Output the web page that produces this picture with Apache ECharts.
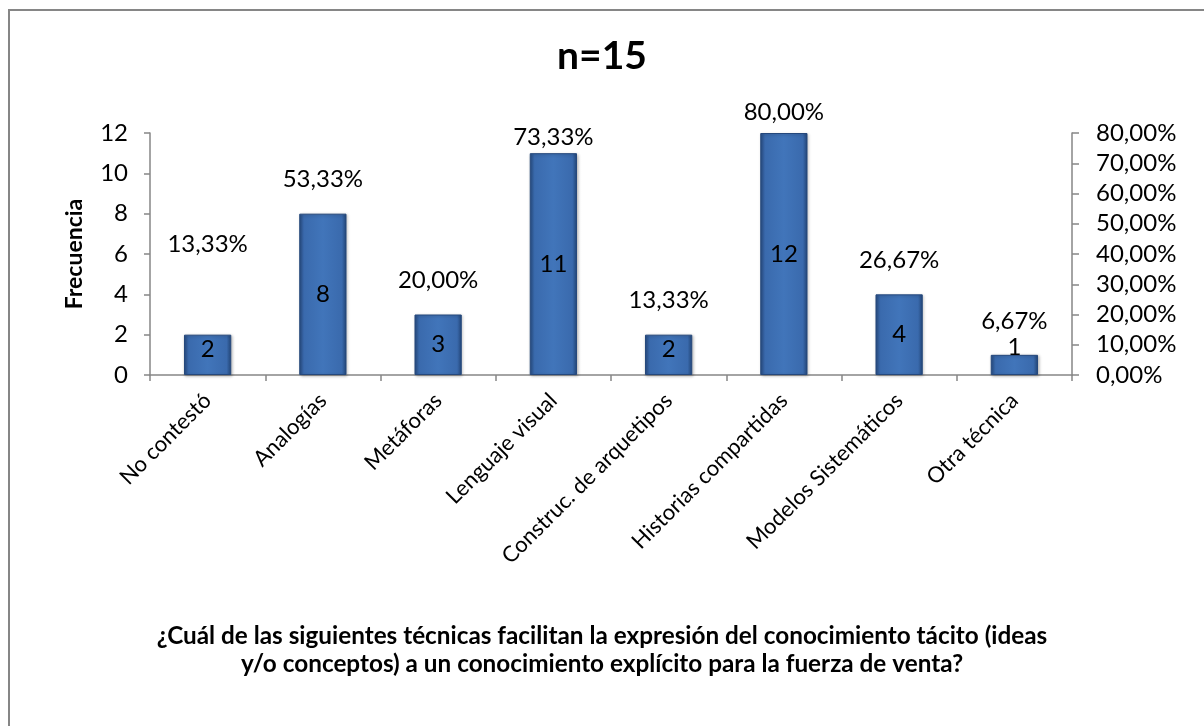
<!DOCTYPE html>
<html>
<head>
<meta charset="utf-8">
<title>n=15</title>
<script src="https://cdn.jsdelivr.net/npm/echarts@6/dist/echarts.min.js"></script>
<style>
  html, body { margin: 0; padding: 0; background: #ffffff; }
  #chart { width: 1204px; height: 726px; }
</style>
</head>
<body>
<div id="chart"></div>
<script>
// Survey answers: techniques that help turn tacit knowledge into explicit knowledge
const categories = [
  'No contestó',
  'Analogías',
  'Metáforas',
  'Lenguaje visual',
  'Construc. de arquetipos',
  'Historias compartidas',
  'Modelos Sistemáticos',
  'Otra técnica'
];
const frequencies = [2, 8, 3, 11, 2, 12, 4, 1];
const percentages = [13.33, 53.33, 20.00, 73.33, 13.33, 80.00, 26.67, 6.67];
const frequencyTicks = { min: 0, max: 12, interval: 2 };
const percentTicks = { min: 0, max: 80, interval: 10 };
const chartTitle = 'n=15';
const questionText = '¿Cuál de las siguientes técnicas facilitan la expresión del conocimiento tácito (ideas\ny/o conceptos) a un conocimiento explícito para la fuerza de venta?';

const FONT = 'Lato, "Open Sans", sans-serif';
const AXIS_GREY = '#868686';

// label placement tweaks for a few points (distance above bar / shift inside bar)
const pctLabelDistance = { default: 22, 0: 78, 3: 4, 5: 9 };
const countLabelShift = { 0: -6, 4: -6, 7: -18 };

const fmtPct = v => v.toFixed(2).replace('.', ',') + '%';

const barFill = new echarts.graphic.LinearGradient(0, 0, 1, 0, [
  { offset: 0, color: '#284d83' },
  { offset: 0.1, color: '#3a6aad' },
  { offset: 0.5, color: '#4175ba' },
  { offset: 0.9, color: '#3a6aad' },
  { offset: 1, color: '#234678' }
]);

const chart = echarts.init(document.getElementById('chart'), null, { renderer: 'canvas' });

chart.setOption({
  backgroundColor: '#ffffff',
  animation: false,
  title: {
    text: chartTitle,
    left: 'center',
    top: 32,
    textStyle: { fontFamily: FONT, fontSize: 39, fontWeight: 'bold', color: '#000' }
  },
  graphic: [
    {
      type: 'rect',
      shape: { x: 9, y: 10, width: 1400, height: 900 },
      style: { fill: 'none', stroke: AXIS_GREY, lineWidth: 2 },
      silent: true
    },
    {
      type: 'text',
      x: 602,
      y: 622,
      style: {
        text: questionText,
        fontFamily: FONT,
        fontSize: 24.3,
        fontWeight: 'bold',
        fill: '#000',
        align: 'center',
        verticalAlign: 'top',
        lineHeight: 28
      },
      silent: true
    }
  ],
  grid: { left: 150, right: 132, top: 133, bottom: 351, containLabel: false },
  xAxis: {
    type: 'category',
    data: categories,
    boundaryGap: true,
    axisLine: { lineStyle: { color: AXIS_GREY, width: 1.5 } },
    axisTick: { show: true, length: 6, lineStyle: { color: AXIS_GREY, width: 1.5 } },
    axisLabel: {
      interval: 0,
      rotate: 45,
      margin: 22,
      fontFamily: FONT,
      fontSize: 22,
      color: '#000'
    },
    splitLine: { show: false }
  },
  yAxis: [
    {
      type: 'value',
      min: frequencyTicks.min,
      max: frequencyTicks.max,
      interval: frequencyTicks.interval,
      name: 'Frecuencia',
      nameLocation: 'middle',
      nameGap: 64,
      nameRotate: 90,
      nameTextStyle: { fontFamily: FONT, fontSize: 23, fontWeight: 'bold', color: '#000' },
      axisLine: { show: true, lineStyle: { color: AXIS_GREY, width: 1.5 } },
      axisTick: { show: true, length: 6, lineStyle: { color: AXIS_GREY, width: 1.5 } },
      axisLabel: { margin: 22, fontFamily: FONT, fontSize: 24, color: '#000' },
      splitLine: { show: false }
    },
    {
      type: 'value',
      min: percentTicks.min,
      max: percentTicks.max,
      interval: percentTicks.interval,
      position: 'right',
      axisLine: { show: true, lineStyle: { color: AXIS_GREY, width: 1.5 } },
      axisTick: { show: true, length: 7, lineStyle: { color: AXIS_GREY, width: 1.5 } },
      axisLabel: {
        margin: 24,
        fontFamily: FONT,
        fontSize: 24,
        color: '#000',
        formatter: v => fmtPct(v)
      },
      splitLine: { show: false }
    }
  ],
  series: [
    {
      name: 'Frecuencia',
      type: 'bar',
      yAxisIndex: 0,
      barWidth: '41%',
      barGap: '-100%',
      z: 3,
      itemStyle: {
        color: barFill,
        borderColor: '#25487c',
        borderWidth: 1,
        shadowColor: 'rgba(0,0,0,0.25)',
        shadowBlur: 3,
        shadowOffsetX: 1,
        shadowOffsetY: 1
      },
      label: {
        show: true,
        position: 'inside',
        fontFamily: FONT,
        fontSize: 24,
        color: '#000'
      },
      data: frequencies.map((v, i) => ({
        value: v,
        label: { offset: [0, countLabelShift[i] || 0] }
      }))
    },
    {
      name: 'Porcentaje',
      type: 'bar',
      yAxisIndex: 1,
      barWidth: '41%',
      barGap: '-100%',
      z: 2,
      itemStyle: { color: 'rgba(0,0,0,0)' },
      label: {
        show: true,
        position: 'top',
        fontFamily: FONT,
        fontSize: 24,
        color: '#000',
        formatter: p => fmtPct(p.value)
      },
      data: percentages.map((v, i) => ({
        value: v,
        label: { distance: pctLabelDistance[i] !== undefined ? pctLabelDistance[i] : pctLabelDistance.default }
      }))
    }
  ]
});
</script>
</body>
</html>
